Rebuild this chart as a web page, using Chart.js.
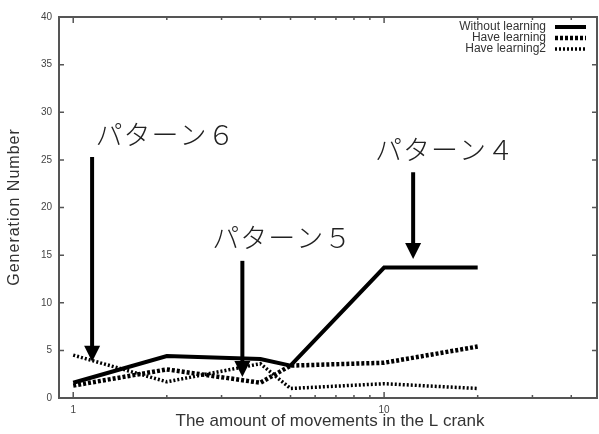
<!DOCTYPE html>
<html>
<head>
<meta charset="utf-8">
<script src="https://cdn.jsdelivr.net/npm/chart.js@4.4.1/dist/chart.umd.min.js"></script>
<style>
  html, body { margin: 0; padding: 0; background: #fff; }
  #wrap { width: 599px; height: 434px; }
</style>
</head>
<body>
<div id="wrap"><canvas id="chart" width="599" height="434"></canvas></div>
<script>
// データ
const movements = [1, 2, 4, 5, 10, 20];
const withoutLearning = [1.6, 4.4, 4.1, 3.4, 13.7, 13.7];
const haveLearning = [1.3, 3.0, 1.6, 3.4, 3.7, 5.4];
const haveLearning2 = [4.5, 1.7, 3.6, 1.0, 1.5, 1.0];

const yTicks = [0, 5, 10, 15, 20, 25, 30, 35, 40];
const xLabelTicks = [1, 10];
const xMinorTicks = [2, 3, 4, 5, 6, 7, 8, 9, 20, 30, 40];

// 注記: [テキスト, テキストのx, テキストのy, 矢印のx, 矢印の上端y, 矢印の先端y]
const notes = [
  ["パターン６", 1.18, 26.6, 1.15, 25.3, 3.8],
  ["パターン５", 2.8, 15.75, 3.5, 14.4, 2.2],
  ["パターン４", 9.35, 25.0, 12.4, 23.7, 14.6],
];

const series = [
  { label: "Without learning", data: withoutLearning, width: 4, dash: [] },
  { label: "Have learning", data: haveLearning, width: 4.5, dash: [3, 2] },
  { label: "Have learning2", data: haveLearning2, width: 3.5, dash: [2, 2] },
];

const toPoints = (arr) => arr.map((v, i) => ({ x: movements[i], y: v }));

// 枠・目盛り・凡例・注記を描く
const decorations = {
  id: "decorations",
  afterDraw(chart) {
    const { ctx, chartArea: a, scales } = chart;
    const xs = scales.x, ys = scales.y;
    ctx.save();

    // 枠
    ctx.strokeStyle = "#555";
    ctx.lineWidth = 2;
    ctx.strokeRect(a.left, a.top, a.right - a.left, a.bottom - a.top);

    // 目盛り（内向き）
    ctx.lineWidth = 1.5;
    ctx.beginPath();
    yTicks.forEach((t) => {
      const py = ys.getPixelForValue(t);
      ctx.moveTo(a.left, py); ctx.lineTo(a.left + 5, py);
      ctx.moveTo(a.right, py); ctx.lineTo(a.right - 5, py);
    });
    xLabelTicks.forEach((t) => {
      const px = xs.getPixelForValue(t);
      ctx.moveTo(px, a.bottom); ctx.lineTo(px, a.bottom - 6);
      ctx.moveTo(px, a.top); ctx.lineTo(px, a.top + 6);
    });
    xMinorTicks.forEach((t) => {
      const px = xs.getPixelForValue(t);
      ctx.moveTo(px, a.bottom); ctx.lineTo(px, a.bottom - 3);
      ctx.moveTo(px, a.top); ctx.lineTo(px, a.top + 3);
    });
    ctx.stroke();

    // 軸タイトル
    ctx.fillStyle = "#333";
    ctx.font = "17px 'Liberation Sans', Arial, sans-serif";
    ctx.textAlign = "center";
    ctx.textBaseline = "middle";
    ctx.fillText("The amount of movements in the L crank", 330, 421);
    ctx.save();
    ctx.translate(15, 207);
    ctx.rotate(-Math.PI / 2);
    ctx.font = "16px 'Liberation Sans', Arial, sans-serif";
    ctx.letterSpacing = "1px";
    ctx.fillText("Generation Number", 0, 0);
    ctx.restore();

    // 凡例
    ctx.font = "12px 'Liberation Sans', Arial, sans-serif";
    ctx.textAlign = "right";
    series.forEach((s, i) => {
      const py = 27 + i * 11;
      ctx.fillStyle = "#333";
      ctx.fillText(s.label, 546, py);
      ctx.strokeStyle = "#000";
      ctx.lineWidth = s.width;
      ctx.setLineDash(s.dash);
      ctx.beginPath();
      ctx.moveTo(555, py); ctx.lineTo(586, py);
      ctx.stroke();
    });
    ctx.setLineDash([]);

    // 注記と矢印
    ctx.font = "300 27px 'Noto Sans CJK JP', sans-serif";
    ctx.textAlign = "left";
    ctx.textBaseline = "alphabetic";
    ctx.letterSpacing = "1px";
    notes.forEach(([text, tx, ty, ax, top, tip]) => {
      ctx.fillStyle = "#222";
      ctx.fillText(text, xs.getPixelForValue(tx), ys.getPixelForValue(ty));
      const px = xs.getPixelForValue(ax);
      const y0 = ys.getPixelForValue(top);
      const y1 = ys.getPixelForValue(tip);
      ctx.strokeStyle = "#000";
      ctx.lineWidth = 4;
      ctx.beginPath();
      ctx.moveTo(px, y0); ctx.lineTo(px, y1 - 14);
      ctx.stroke();
      ctx.fillStyle = "#000";
      ctx.beginPath();
      ctx.moveTo(px - 8, y1 - 16);
      ctx.lineTo(px + 8, y1 - 16);
      ctx.lineTo(px, y1);
      ctx.closePath();
      ctx.fill();
    });

    ctx.restore();
  },
};

const chart = document.querySelector("#chart").getContext("2d");

new Chart(chart, {
  type: "line",
  data: {
    datasets: series.map((s) => ({
      label: s.label,
      data: toPoints(s.data),
      borderColor: "#000",
      borderWidth: s.width,
      borderDash: s.dash,
      pointRadius: 0,
      tension: 0,
      fill: false,
    })),
  },
  options: {
    responsive: false,
    animation: false,
    layout: { padding: { top: 17, right: 2, left: 0, bottom: 0 } },
    plugins: { legend: { display: false }, tooltip: { enabled: false } },
    scales: {
      x: {
        type: "logarithmic",
        min: 0.9,
        max: 48.4,
        grid: { display: false, drawTicks: false },
        border: { display: false },
        afterBuildTicks: (scale) => {
          scale.ticks = xLabelTicks.map((v) => ({ value: v }));
        },
        afterFit: (scale) => { scale.height = 36; },
        ticks: {
          padding: 6,
          autoSkip: false,
          maxRotation: 0,
          color: "#444",
          font: { family: "'Liberation Sans', Arial, sans-serif", size: 10 },
          callback: (v) => String(v),
        },
      },
      y: {
        min: 0,
        max: 40,
        grid: { display: false, drawTicks: false },
        border: { display: false },
        afterBuildTicks: (scale) => {
          scale.ticks = yTicks.map((v) => ({ value: v }));
        },
        afterFit: (scale) => { scale.width = 59; },
        ticks: {
          padding: 7,
          color: "#444",
          font: { family: "'Liberation Sans', Arial, sans-serif", size: 10 },
        },
      },
    },
  },
  plugins: [decorations],
});
</script>
</body>
</html>
